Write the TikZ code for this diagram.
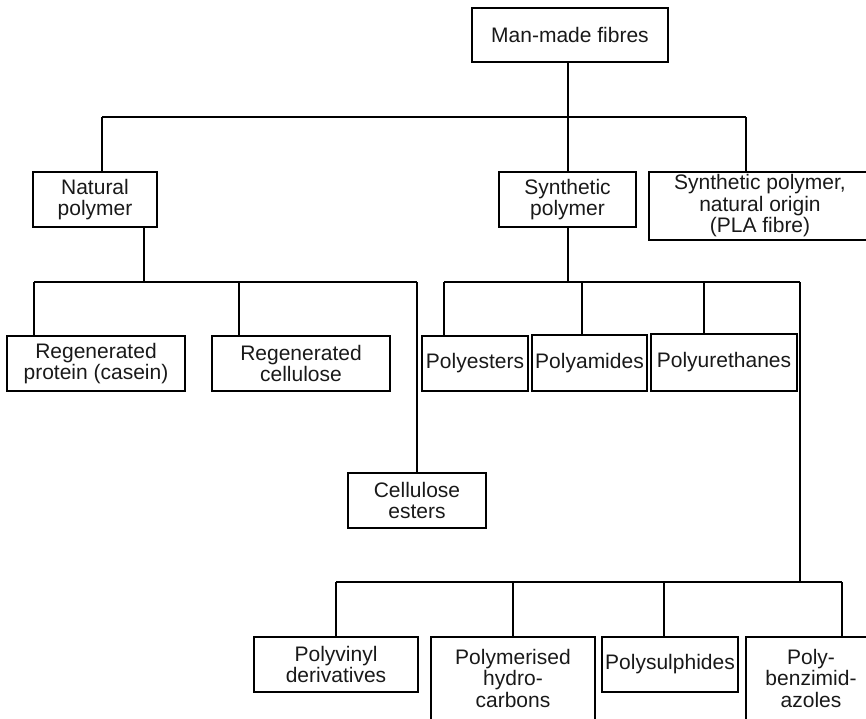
\documentclass[tikz,border=0pt]{standalone}
\usepackage{fontspec}
\setmainfont{Liberation Sans}
\begin{document}
\begin{tikzpicture}[x=1pt,y=-1pt,
  box/.style={draw=black,line width=1.7pt,inner sep=0pt,align=center,
    font=\fontsize{21}{21.5}\selectfont,text=black!90},
  txt/.style={inner sep=0pt,align=center,
    font=\fontsize{21}{21.5}\selectfont,text=black!90},
  conn/.style={draw=black,line width=1.7pt}]
\useasboundingbox (0,0) rectangle (866,718);
% boxes
\node[box,minimum width=196,minimum height=54] (root) at (570,35) {Man-made fibres};
\node[box,minimum width=124,minimum height=55] (nat) at (95,199.5) {Natural\\polymer};
\node[box,minimum width=137,minimum height=55] (syn) at (567.5,199.5) {Synthetic\\polymer};
\node[box,minimum width=222,minimum height=68] (pla) at (760,206) {Synthetic polymer,\\natural origin\\(PLA fibre)};
\node[box,minimum width=178,minimum height=55] (regp) at (96,363.5) {Regenerated\\protein (casein)};
\node[box,minimum width=178,minimum height=55] (regc) at (301,363.5) {Regenerated\\cellulose};
\node[box,minimum width=138,minimum height=55] (cell) at (417,500.5) {Cellulose\\esters};
\node[box,minimum width=106,minimum height=55] (pest) at (475,363.5) {Polyesters};
\node[box,minimum width=115,minimum height=56] (pam) at (589.5,363) {Polyamides};
\node[box,minimum width=146,minimum height=57] (pur) at (724,362.5) {Polyurethanes};
\node[box,minimum width=164,minimum height=55] (pvin) at (336,664.5) {Polyvinyl\\derivatives};
\node[box,minimum width=164,minimum height=100] (phc) at (513,687) {};
\node[txt] (phct) at (513,678) {Polymerised\\hydro-\\carbons};
\node[box,minimum width=136,minimum height=55] (psul) at (670,664.5) {Polysulphides};
\node[box,minimum width=130,minimum height=100] (pbz) at (811,687) {};
\node[txt] (pbzt) at (811,678) {Poly-\\benzimid-\\azoles};
% junction coordinates
\coordinate (b1m) at (568,117);
\coordinate (b1l) at (102,117);
\coordinate (b1r) at (746,117);
\coordinate (b2n) at (144,282);
\coordinate (b2l) at (34,282);
\coordinate (b2c) at (239,282);
\coordinate (b2r) at (417,282);
\coordinate (b3s) at (568,282);
\coordinate (b3l) at (444,282);
\coordinate (b3a) at (582,282);
\coordinate (b3u) at (704,282);
\coordinate (b3r) at (800,282);
\coordinate (b4r) at (800,582);
\coordinate (b4l) at (336,582);
\coordinate (b4h) at (513,582);
\coordinate (b4s) at (664,582);
\coordinate (b4e) at (842,582);
% level 1
\draw[conn] (b1m |- root.south) -- (b1m);
\draw[conn] (b1l) -- (b1r);
\draw[conn] (b1l) -- (b1l |- nat.north);
\draw[conn] (b1m) -- (b1m |- syn.north);
\draw[conn] (b1r) -- (b1r |- pla.north);
% natural polymer branch
\draw[conn] (b2n |- nat.south) -- (b2n);
\draw[conn] (b2l) -- (b2r);
\draw[conn] (b2l) -- (b2l |- regp.north);
\draw[conn] (b2c) -- (b2c |- regc.north);
\draw[conn] (b2r) -- (b2r |- cell.north);
% synthetic polymer branch
\draw[conn] (b3s |- syn.south) -- (b3s);
\draw[conn] (b3l) -- (b3r);
\draw[conn] (b3l) -- (b3l |- pest.north);
\draw[conn] (b3a) -- (b3a |- pam.north);
\draw[conn] (b3u) -- (b3u |- pur.north);
\draw[conn] (b3r) -- (b4r);
\draw[conn] (b4l) -- (b4e);
\draw[conn] (b4l) -- (b4l |- pvin.north);
\draw[conn] (b4h) -- (b4h |- phc.north);
\draw[conn] (b4s) -- (b4s |- psul.north);
\draw[conn] (b4e) -- (b4e |- pbz.north);
\end{tikzpicture}
\end{document}
